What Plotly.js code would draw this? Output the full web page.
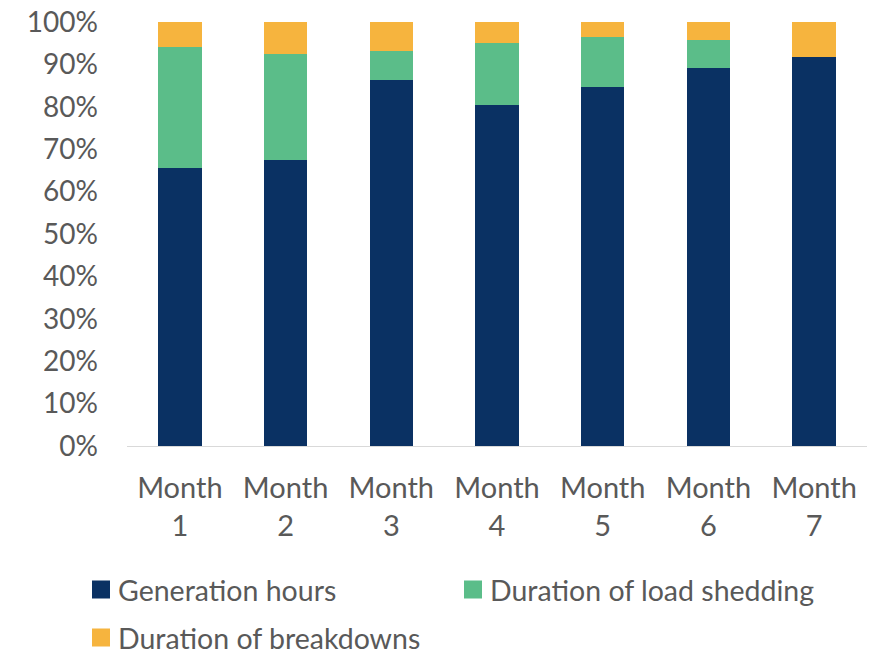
<!DOCTYPE html>
<html>
<head>
<meta charset="utf-8">
<script src="https://cdn.plot.ly/plotly-3.0.1.min.js"></script>
<style>html,body{margin:0;padding:0;background:#fff;}#chart{width:879px;height:656px;}</style>
</head>
<body>
<div id="chart"></div>
<script>
var months = ["Month<br>1", "Month<br>2", "Month<br>3", "Month<br>4", "Month<br>5", "Month<br>6", "Month<br>7"];
var generationHours = [65.6, 67.5, 86.4, 80.5, 84.7, 89.2, 91.7];
var loadShedding = [28.4, 25.0, 6.8, 14.6, 11.8, 6.6, 0];
var breakdowns = [6.0, 7.5, 6.8, 4.9, 3.5, 4.2, 8.3];
var seriesNames = ["Generation hours", "Duration of load shedding", "Duration of breakdowns"];
var seriesColors = ["#0a3163", "#5bbd89", "#f6b43e"];
var legendIds = ["legend", "legend2", "legend3"];

var FONT = "Lato, 'Open Sans', sans-serif";
var TXT = "#595959";

var values = [generationHours, loadShedding, breakdowns];
var traces = values.map(function (v, i) {
  return {
    type: "bar",
    x: months,
    y: v,
    name: seriesNames[i],
    legend: legendIds[i],
    marker: { color: seriesColors[i], line: { width: 0 } },
    hoverinfo: "skip"
  };
});

function mkLegend(x, y) {
  return {
    orientation: "h",
    xref: "container",
    yref: "container",
    x: x,
    xanchor: "left",
    y: y,
    yanchor: "middle",
    itemwidth: 30,
    font: { family: FONT, size: 28.5, color: TXT },
    bgcolor: "rgba(0,0,0,0)",
    borderwidth: 0
  };
}

var layout = {
  width: 879,
  height: 656,
  barmode: "stack",
  bargap: 0.59,
  paper_bgcolor: "#ffffff",
  plot_bgcolor: "#ffffff",
  margin: { l: 127, r: 12, t: 22, b: 210, autoexpand: false },
  font: { family: FONT, size: 29, color: TXT },
  xaxis: {
    showgrid: false,
    showline: true,
    linecolor: "#d9d9d9",
    linewidth: 1,
    ticks: "",
    tickfont: { family: FONT, size: 29, color: TXT },
    ticklabelstandoff: 16,
    fixedrange: true
  },
  yaxis: {
    range: [0, 100],
    dtick: 10,
    tick0: 0,
    ticksuffix: "%",
    showgrid: false,
    zeroline: false,
    showline: false,
    ticks: "",
    ticklabelstandoff: 28,
    tickfont: { family: FONT, size: 28, color: TXT },
    fixedrange: true
  },
  showlegend: true,
  legend: mkLegend(78 / 879, 1 - 590 / 656),
  legend2: mkLegend(450 / 879, 1 - 590 / 656),
  legend3: mkLegend(78 / 879, 1 - 638 / 656)
};

Plotly.newPlot("chart", traces, layout, { displayModeBar: false, staticPlot: true }).then(function (gd) {
  // enlarge the legend swatches to the reference's square size
  gd.querySelectorAll(".legendpoints path").forEach(function (p) {
    var t = p.getAttribute("transform") || "";
    p.setAttribute("transform", t + " translate(3,0) scale(1.5)");
  });
});
</script>
</body>
</html>
